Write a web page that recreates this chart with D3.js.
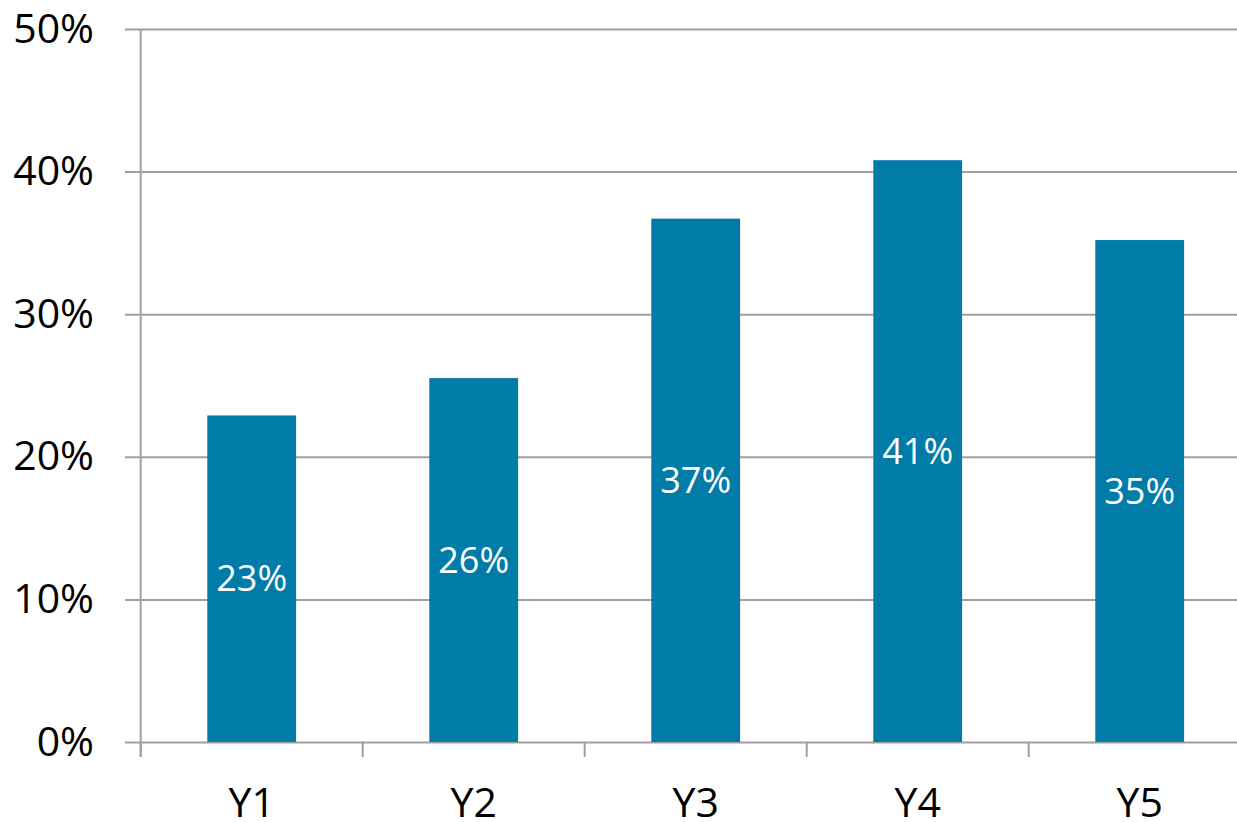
<!DOCTYPE html>
<html>
<head>
<meta charset="utf-8">
<script src="https://cdn.jsdelivr.net/npm/d3@7"></script>
<style>
  html, body { margin: 0; padding: 0; background: #fff; }
  svg { display: block; font-family: "Open Sans", sans-serif; }
</style>
</head>
<body>
<svg id="chart" width="1237" height="822"></svg>
<script>
// Share per year
const categories = ["Y1", "Y2", "Y3", "Y4", "Y5"];
const values = [0.229, 0.2552, 0.367, 0.408, 0.352];
const yTicks = [0, 0.1, 0.2, 0.3, 0.4, 0.5];

const svg = d3.select("#chart");
const W = 1237;
const x0 = 140.7, bandStep = 222;
const yTop = 29, yBottom = 742;

const x = d3.scaleBand()
  .domain(categories)
  .range([x0, x0 + bandStep * categories.length])
  .paddingInner(0.6)
  .paddingOuter(0.3);

const y = d3.scaleLinear().domain([0, 0.5]).range([yBottom, yTop]);

const gridColor = "#a0a0a0";
const fmt = d3.format(".0%");

// horizontal gridlines with short outer ticks, plus tick labels
const yAxis = d3.axisLeft(y)
  .tickValues(yTicks)
  .tickFormat(fmt)
  .tickSize(-(W - 125))
  .tickSizeOuter(0)
  .tickPadding(31);

svg.append("g")
  .attr("transform", "translate(125,0)")
  .call(yAxis)
  .call(g => g.select(".domain").remove())
  .call(g => g.selectAll(".tick line").attr("stroke", gridColor).attr("stroke-width", 2))
  .call(g => g.selectAll(".tick text")
    .attr("fill", "#000")
    .attr("font-size", 41)
    .attr("font-family", "Open Sans, sans-serif"));

// bars
svg.append("g").selectAll("rect")
  .data(categories)
  .join("rect")
  .attr("x", d => x(d))
  .attr("width", x.bandwidth())
  .attr("y", (d, i) => y(values[i]))
  .attr("height", (d, i) => y(0) - y(values[i]))
  .attr("fill", "#017ba7");

// vertical axis line
svg.append("line")
  .attr("x1", x0).attr("x2", x0)
  .attr("y1", yTop).attr("y2", yBottom + 15)
  .attr("stroke", gridColor).attr("stroke-width", 2);

// category boundary ticks below the baseline
const bounds = d3.range(categories.length + 1).map(i => x0 + i * bandStep);
svg.append("g").selectAll("line")
  .data(bounds)
  .join("line")
  .attr("x1", d => d).attr("x2", d => d)
  .attr("y1", yBottom).attr("y2", yBottom + 15)
  .attr("stroke", gridColor).attr("stroke-width", 2);

// category labels
svg.append("g").selectAll("text")
  .data(categories)
  .join("text")
  .attr("x", d => x(d) + x.bandwidth() / 2)
  .attr("y", 817)
  .attr("text-anchor", "middle")
  .attr("font-size", 41)
  .attr("fill", "#000")
  .text(d => d);

// value labels centred inside each bar
svg.append("g").selectAll("text")
  .data(categories)
  .join("text")
  .attr("x", d => x(d) + x.bandwidth() / 2)
  .attr("y", (d, i) => (y(values[i]) + y(0)) / 2)
  .attr("dy", "0.35em")
  .attr("text-anchor", "middle")
  .attr("font-size", 36)
  .attr("fill", "#fff")
  .text((d, i) => fmt(values[i]));
</script>
</body>
</html>
